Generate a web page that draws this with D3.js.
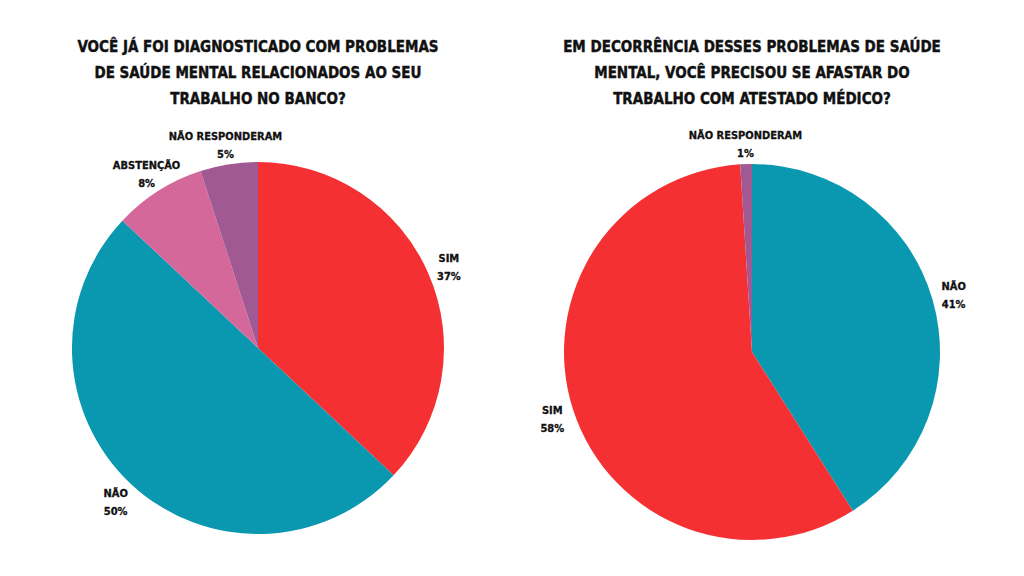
<!DOCTYPE html>
<html><head><meta charset="utf-8">
<script src="https://cdn.jsdelivr.net/npm/d3@7"></script>
<style>body{margin:0;background:#fff}text{font-family:"DejaVu Sans Condensed","Liberation Sans Narrow",sans-serif;font-weight:bold;fill:#111}</style>
</head><body><svg width="1024" height="576"></svg>
<script>
var titles1 = ["VOCÊ JÁ FOI DIAGNOSTICADO COM PROBLEMAS", "DE SAÚDE MENTAL RELACIONADOS AO SEU", "TRABALHO NO BANCO?"];
var cats1 = ["SIM", "NÃO", "ABSTENÇÃO", "NÃO RESPONDERAM"];
var vals1 = [37, 50, 8, 5];
var cols1 = ["#f53033", "#0a97b0", "#d4689a", "#a05993"];

var titles2 = ["EM DECORRÊNCIA DESSES PROBLEMAS DE SAÚDE", "MENTAL, VOCÊ PRECISOU SE AFASTAR DO", "TRABALHO COM ATESTADO MÉDICO?"];
var cats2 = ["NÃO", "SIM", "NÃO RESPONDERAM"];
var vals2 = [41, 58, 1];
var cols2 = ["#0a97b0", "#f53033", "#a05993"];

var svg = d3.select("svg");

function drawPie(cx, cy, r, titles, cats, vals, cols) {
  var g = svg.append("g");
  titles.forEach(function(t, i) {
    g.append("text").attr("x", cx).attr("y", 52 + i * 26).attr("text-anchor", "middle")
      .style("font-size", "15px").style("stroke", "#111").style("stroke-width", "0.4px").text(t);
  });
  var data = cats.map(function(c, i) { return {cat: c, v: vals[i], col: cols[i]}; });
  var arcs = d3.pie().sort(null).value(function(d) { return d.v; })(data);
  var arc = d3.arc().innerRadius(0).outerRadius(r);
  var pg = g.append("g").attr("transform", "translate(" + cx + "," + cy + ")");
  pg.selectAll("path").data(arcs).enter().append("path")
    .attr("d", arc).attr("fill", function(d) { return d.data.col; });
  arcs.forEach(function(a) {
    var m = (a.startAngle + a.endAngle) / 2, R = r + 22;
    var x = Math.sin(m) * R, y = -Math.cos(m) * R;
    var t = pg.append("text").attr("text-anchor", "middle").style("font-size", "11px")
      .style("stroke", "#111").style("stroke-width", "0.3px");
    t.append("tspan").attr("x", x).attr("y", y - 3).text(a.data.cat);
    t.append("tspan").attr("x", x).attr("y", y + 15).text(a.data.v + "%");
  });
}

drawPie(258, 348, 186, titles1, cats1, vals1, cols1);
drawPie(752, 352, 188, titles2, cats2, vals2, cols2);
</script></body></html>
